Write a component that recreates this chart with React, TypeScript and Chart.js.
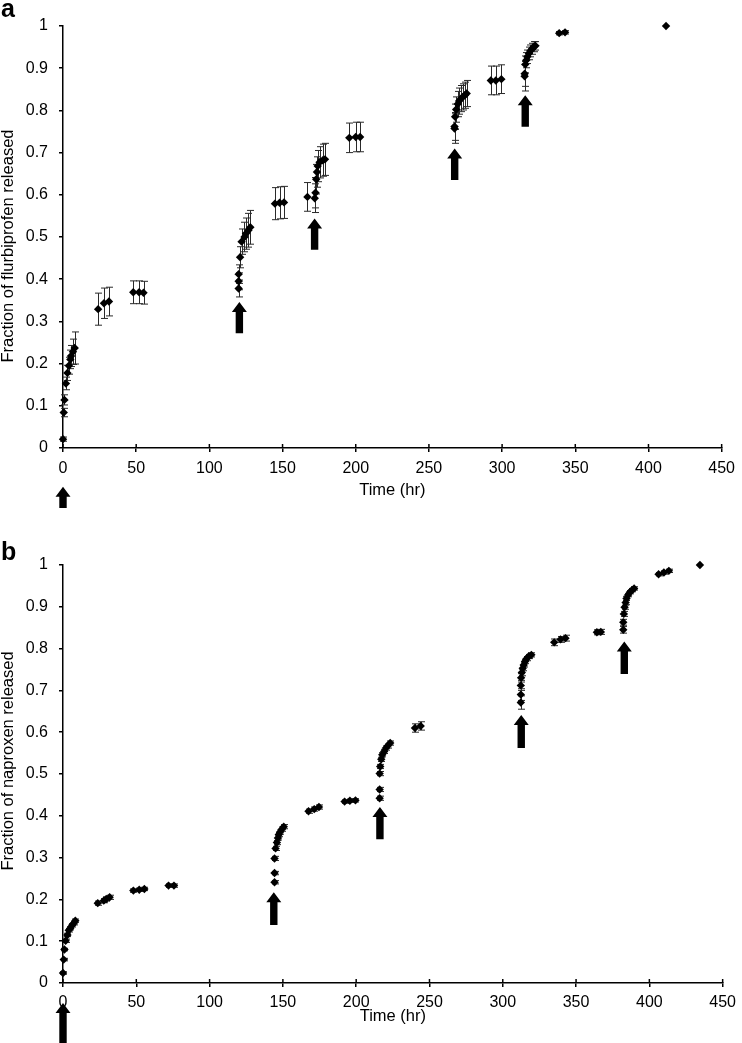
import React, { useEffect, useRef } from "react";
import { Chart, registerables } from "chart.js";

Chart.register(...registerables);

// ---------- shared axis ticks ----------
const xTickValues = [0, 50, 100, 150, 200, 250, 300, 350, 400, 450];
const yTickLabels = ["0", "0.1", "0.2", "0.3", "0.4", "0.5", "0.6", "0.7", "0.8", "0.9", "1"];

// ---------- panel a: flurbiprofen ----------
const flurbiTime = [
  0, 0.5, 1, 2, 3, 4, 5, 5.5, 6.8, 8,
  24, 28, 31.4,
  48, 52, 55,
  120, 120, 120, 121, 122, 124, 125, 126.7, 128,
  144.8, 148, 151,
  167, 172, 172.5, 173, 173.5, 174, 175.3, 177.5, 179,
  195.6, 200, 203,
  267.5, 267.5, 267.9, 268.6, 269.7, 270.6, 272, 273.1, 274.5, 275.8,
  292.3, 295.7, 299.5,
  315.4, 315.4, 315.8, 316.5, 317.2, 318.3, 319.2, 320.5, 321.7, 322.8,
  339, 343,
  412,
];
const flurbiFraction = [
  0.021, 0.084, 0.114, 0.153, 0.178, 0.195, 0.21, 0.218, 0.228, 0.237,
  0.329, 0.343, 0.347,
  0.369, 0.369, 0.368,
  0.378, 0.395, 0.412, 0.452, 0.489, 0.5, 0.508, 0.516, 0.523,
  0.579, 0.581, 0.582,
  0.595, 0.592, 0.605, 0.637, 0.654, 0.668, 0.677, 0.682, 0.684,
  0.735, 0.737, 0.737,
  0.757, 0.762, 0.785, 0.802, 0.815, 0.822, 0.828, 0.832, 0.836, 0.84,
  0.871, 0.871, 0.874,
  0.881, 0.887, 0.909, 0.919, 0.927, 0.935, 0.941, 0.946, 0.951, 0.953,
  0.983, 0.985,
  1.0,
];
const flurbiError = [
  0.005, 0.01, 0.012, 0.015, 0.018, 0.02, 0.022, 0.025, 0.03, 0.038,
  0.038, 0.036, 0.034,
  0.027, 0.027, 0.027,
  0.02, 0.02, 0.022, 0.025, 0.03, 0.035, 0.037, 0.04, 0.04,
  0.038, 0.038, 0.038,
  0.034, 0.034, 0.036, 0.035, 0.036, 0.037, 0.037, 0.038, 0.038,
  0.035, 0.035, 0.035,
  0.035, 0.033, 0.03, 0.03, 0.03, 0.031, 0.031, 0.031, 0.031, 0.031,
  0.034, 0.034, 0.034,
  0.035, 0.03, 0.02, 0.018, 0.016, 0.015, 0.014, 0.013, 0.012, 0.01,
  0.004, 0.004,
  0,
];
const flurbiArrowTime = [0, 120.5, 171.9, 267.6, 315.8];
const flurbiArrowTip = [-0.092, 0.346, 0.544, 0.71, 0.836];
const flurbiArrowBase = [-0.142, 0.272, 0.47, 0.635, 0.761];

// ---------- panel b: naproxen ----------
const naproxenTime = [
  0, 0.5, 1, 1.8, 3, 3.9, 5, 6.2, 7.3, 8.4,
  23.7, 27.8, 29.5, 31.8,
  48, 52, 55.5,
  72, 75.7,
  144.3, 144.3, 144.3, 145.0, 145.9, 146.6, 147.2, 148.1, 149.3, 150.6,
  167.5, 171.4, 174.6,
  192.1, 195.7, 199.5,
  216.0, 216.0, 216.0, 216.4, 217.1, 217.8, 219.1, 220.3, 221.4, 223.2,
  240.1, 244.0,
  312.3, 312.3, 312.3, 312.5, 313, 313.6, 314.3, 315.2, 316.2, 317.6, 319.5,
  335.1, 339.4, 342.8,
  364.2, 366.9,
  382.2, 382.2, 382.6, 383.1, 383.8, 384.4, 385.5, 386.7, 388.2, 389.6,
  406.3, 409.9, 413.3,
  434.5,
];
const naproxenFraction = [
  0.024, 0.056, 0.08, 0.101, 0.115, 0.126, 0.131, 0.138, 0.143, 0.149,
  0.191, 0.197, 0.201, 0.205,
  0.221, 0.223, 0.225,
  0.233, 0.233,
  0.241, 0.263, 0.298, 0.322, 0.336, 0.347, 0.355, 0.361, 0.368, 0.374,
  0.411, 0.416, 0.421,
  0.434, 0.436, 0.437,
  0.442, 0.463, 0.501, 0.518, 0.535, 0.546, 0.554, 0.562, 0.567, 0.574,
  0.61, 0.615,
  0.671, 0.69, 0.712, 0.73, 0.743, 0.753, 0.761, 0.769, 0.776, 0.781, 0.785,
  0.815, 0.822, 0.825,
  0.839, 0.84,
  0.845, 0.863, 0.883, 0.899, 0.91, 0.92, 0.928, 0.935, 0.94, 0.944,
  0.978, 0.982, 0.986,
  1.0,
];
const naproxenError = [
  0.003, 0.003, 0.003, 0.004, 0.004, 0.004, 0.004, 0.004, 0.004, 0.004,
  0.005, 0.005, 0.005, 0.005,
  0.004, 0.004, 0.004,
  0.004, 0.004,
  0.004, 0.004, 0.005, 0.005, 0.005, 0.005, 0.005, 0.005, 0.005, 0.005,
  0.005, 0.005, 0.005,
  0.004, 0.004, 0.004,
  0.005, 0.005, 0.005, 0.005, 0.005, 0.005, 0.005, 0.005, 0.005, 0.005,
  0.01, 0.01,
  0.016, 0.014, 0.012, 0.01, 0.008, 0.006, 0.005, 0.005, 0.005, 0.005, 0.005,
  0.008, 0.007, 0.007,
  0.006, 0.006,
  0.008, 0.007, 0.006, 0.005, 0.005, 0.005, 0.004, 0.004, 0.004, 0.004,
  0.004, 0.004, 0.004,
  0,
];
const naproxenArrowTime = [0, 143.8, 216.2, 312.6, 382.9];
const naproxenArrowTip = [-0.048, 0.217, 0.421, 0.641, 0.817];
const naproxenArrowBase = [-0.16, 0.139, 0.344, 0.562, 0.739];

type Panel = {
  letter: string;
  yTitle: string;
  time: number[];
  fraction: number[];
  error: number[];
  arrowTime: number[];
  arrowTip: number[];
  arrowBase: number[];
  canvasH: number;
  padTop: number;
  padRight: number;
  xAxisH: number;
  xTickPad: number;
  xTitlePad: number;
  letterY: number;
  yTitleCY: number;
};

const FONT = "'Liberation Sans', Arial, Helvetica, sans-serif";

function decorPlugin(p: Panel) {
  return {
    id: "decor_" + p.letter,
    beforeDatasetsDraw(chart: any) {
      const ctx = chart.ctx;
      const xs = chart.scales.x;
      const ys = chart.scales.y;
      ctx.save();
      ctx.strokeStyle = "#2a2a2a";
      ctx.lineWidth = 1;
      for (let i = 0; i < p.time.length; i++) {
        const e = p.error[i];
        if (!e) continue;
        const x = Math.round(xs.getPixelForValue(p.time[i])) + 0.5;
        const y1 = ys.getPixelForValue(p.fraction[i] + e);
        const y2 = ys.getPixelForValue(p.fraction[i] - e);
        ctx.beginPath();
        ctx.moveTo(x, y1);
        ctx.lineTo(x, y2);
        ctx.moveTo(x - 3.5, y1);
        ctx.lineTo(x + 3.5, y1);
        ctx.moveTo(x - 3.5, y2);
        ctx.lineTo(x + 3.5, y2);
        ctx.stroke();
      }
      ctx.restore();
    },
    afterDraw(chart: any) {
      const ctx = chart.ctx;
      const xs = chart.scales.x;
      const ys = chart.scales.y;
      const area = chart.chartArea;
      ctx.save();
      // inner half of crossing x ticks
      ctx.strokeStyle = "#000";
      ctx.lineWidth = 1.5;
      for (const v of xTickValues) {
        const x = xs.getPixelForValue(v);
        ctx.beginPath();
        ctx.moveTo(x, area.bottom - 4);
        ctx.lineTo(x, area.bottom);
        ctx.stroke();
      }
      // arrows
      ctx.fillStyle = "#000";
      for (let i = 0; i < p.arrowTime.length; i++) {
        const x = xs.getPixelForValue(p.arrowTime[i]);
        const yt = ys.getPixelForValue(p.arrowTip[i]);
        const yb = ys.getPixelForValue(p.arrowBase[i]);
        ctx.beginPath();
        ctx.moveTo(x, yt);
        ctx.lineTo(x + 7.5, yt + 10);
        ctx.lineTo(x + 3.7, yt + 10);
        ctx.lineTo(x + 3.7, yb);
        ctx.lineTo(x - 3.7, yb);
        ctx.lineTo(x - 3.7, yt + 10);
        ctx.lineTo(x - 7.5, yt + 10);
        ctx.closePath();
        ctx.fill();
      }
      // panel letter
      ctx.font = "bold 25px " + FONT;
      ctx.textAlign = "left";
      ctx.textBaseline = "alphabetic";
      ctx.fillText(p.letter, 1, p.letterY);
      // y title
      ctx.font = "16.5px " + FONT;
      ctx.textAlign = "center";
      ctx.textBaseline = "middle";
      ctx.translate(8.5, p.yTitleCY);
      ctx.rotate(-Math.PI / 2);
      ctx.fillText(p.yTitle, 0, 0);
      ctx.restore();
    },
  };
}

function PanelChart({ p }: { p: Panel }) {
  const ref = useRef<HTMLCanvasElement | null>(null);
  useEffect(() => {
    if (!ref.current) return;
    const tickFont = { family: FONT, size: 16 };
    const chart = new Chart(ref.current, {
      type: "scatter",
      data: {
        datasets: [
          {
            data: p.time.map((t, i) => ({ x: t, y: p.fraction[i] })),
            pointStyle: "rectRot",
            pointRadius: 4.2,
            backgroundColor: "#000",
            borderColor: "#000",
            borderWidth: 0,
            showLine: false,
            clip: false,
          } as any,
        ],
      },
      options: {
        animation: false,
        responsive: false,
        events: [],
        layout: { padding: { left: 0, right: p.padRight, top: p.padTop, bottom: 0 } },
        plugins: { legend: { display: false }, tooltip: { enabled: false } },
        scales: {
          x: {
            type: "linear",
            min: 0,
            max: 450,
            afterFit: (s: any) => {
              s.height = p.xAxisH;
            },
            afterBuildTicks: (s: any) => {
              s.ticks = xTickValues.map((v) => ({ value: v }));
            },
            ticks: {
              font: tickFont,
              color: "#000",
              padding: p.xTickPad,
              maxRotation: 0,
              autoSkip: false,
              callback: (v: any) => String(v),
            },
            grid: {
              display: true,
              drawOnChartArea: false,
              drawTicks: true,
              tickLength: 4,
              color: "#000",
              lineWidth: 1.5,
            },
            border: { display: true, color: "#000", width: 1.5 },
            title: {
              display: true,
              text: "Time (hr)",
              color: "#000",
              font: { family: FONT, size: 16.5 },
              padding: { top: 0, bottom: p.xTitlePad },
            },
          },
          y: {
            type: "linear",
            min: 0,
            max: 1,
            afterFit: (s: any) => {
              s.width = 63;
            },
            afterBuildTicks: (s: any) => {
              s.ticks = yTickLabels.map((l) => ({ value: parseFloat(l) }));
            },
            ticks: {
              font: tickFont,
              color: "#000",
              padding: 11,
              autoSkip: false,
              callback: (_v: any, i: number) => yTickLabels[i],
            },
            grid: {
              display: true,
              drawOnChartArea: false,
              drawTicks: true,
              tickLength: 4,
              color: "#000",
              lineWidth: 1.5,
            },
            border: { display: true, color: "#000", width: 1.5 },
          },
        },
      } as any,
      plugins: [decorPlugin(p)],
    });
    return () => chart.destroy();
  }, [p]);
  return (
    <canvas
      ref={ref}
      width={742}
      height={p.canvasH}
      style={{ display: "block", width: 742, height: p.canvasH }}
    />
  );
}

const panelA: Panel = {
  letter: "a",
  yTitle: "Fraction of flurbiprofen released",
  time: flurbiTime,
  fraction: flurbiFraction,
  error: flurbiError,
  arrowTime: flurbiArrowTime,
  arrowTip: flurbiArrowTip,
  arrowBase: flurbiArrowBase,
  canvasH: 518,
  padTop: 26,
  padRight: 15,
  xAxisH: 70,
  xTickPad: 7,
  xTitlePad: 17.4,
  letterY: 17,
  yTitleCY: 246,
};

const panelB: Panel = {
  letter: "b",
  yTitle: "Fraction of naproxen released",
  time: naproxenTime,
  fraction: naproxenFraction,
  error: naproxenError,
  arrowTime: naproxenArrowTime,
  arrowTip: naproxenArrowTip,
  arrowBase: naproxenArrowBase,
  canvasH: 525,
  padTop: 47,
  padRight: 13.3,
  xAxisH: 60,
  xTickPad: 6,
  xTitlePad: 16.4,
  letterY: 42,
  yTitleCY: 243,
};

export default function App() {
  useEffect(() => {
    document.body.style.margin = "0";
    document.body.style.background = "#fff";
  }, []);
  return (
    <div style={{ width: 742, height: 1043, background: "#fff", overflow: "hidden" }}>
      <PanelChart p={panelA} />
      <PanelChart p={panelB} />
    </div>
  );
}
